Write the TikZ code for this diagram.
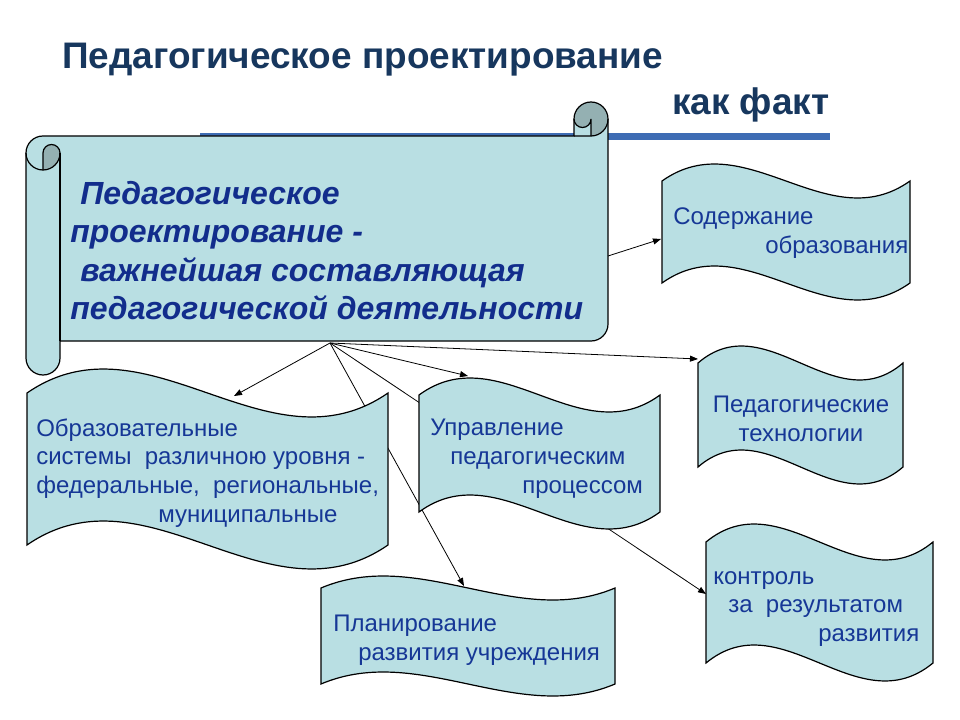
\documentclass[tikz,border=0pt]{standalone}
\usepackage{fontspec}
\setmainfont{Liberation Sans}
\usetikzlibrary{arrows.meta}
\definecolor{fillc}{RGB}{185,223,227}
\definecolor{rollc}{RGB}{148,176,178}
\definecolor{titlec}{RGB}{23,55,94}
\definecolor{barc}{RGB}{62,108,180}
\definecolor{scrolltxtc}{RGB}{18,45,140}
\definecolor{wavetxtc}{RGB}{22,55,150}
\newcommand\wavebox[5]{%
  \filldraw[waveshape] (#1,#3) .. controls ({#1+(#2-#1)/3},{#3-3.46*#5}) and ({#1+2*(#2-#1)/3},{#3+3.46*#5}) .. (#2,#3)
    -- (#2,#4) .. controls ({#1+2*(#2-#1)/3},{#4+3.46*#5}) and ({#1+(#2-#1)/3},{#4-3.46*#5}) .. (#1,#4) -- cycle;}
\begin{document}
\begin{tikzpicture}[x=0.75pt,y=-0.75pt,
  waveshape/.style={draw=black, line width=0.9pt, fill=fillc},
  scrollshape/.style={draw=black, line width=0.9pt},
  conn/.style={draw=black, line width=0.6pt},
  arr/.style={conn, -{Triangle[length=6pt,width=4.5pt]}},
  titletxt/.style={font=\fontsize{27.7}{33.2}\selectfont\bfseries, text=titlec, inner sep=0pt},
  scrolltxt/.style={font=\fontsize{24}{28.8}\selectfont\bfseries\itshape, text=scrolltxtc, inner sep=0pt, align=left},
  wavetxt/.style={font=\fontsize{18}{21.6}\selectfont, text=wavetxtc, inner sep=0pt, align=left}]
\useasboundingbox (0,0) rectangle (960,720);
\fill[white] (0,0) rectangle (960,720);

% title
\node[titletxt, anchor=west] (title) at (62,60) {Педагогическое проектирование};
\node[titletxt, anchor=west] (fact) at (672,105) {как факт};

% blue bar
\fill[barc] (200,133) rectangle (830,140);

% scroll
\fill[fillc] (26,153) arc[start angle=180, end angle=270, radius=17] -- (574,136) -- (574,119)
  arc[start angle=180, end angle=360, radius=17] -- (608,324) arc[start angle=0, end angle=90, radius=17]
  -- (60,341) -- (60,358) arc[start angle=0, end angle=180, radius=17] -- cycle;
\fill[rollc] (43,170) arc[start angle=90, end angle=0, radius=17] arc[start angle=0, end angle=-180, radius=8.5] -- cycle;
\fill[rollc] (591,136) arc[start angle=90, end angle=-180, radius=17] arc[start angle=180, end angle=0, radius=8.5] -- cycle;
\draw[scrollshape] (26,153) arc[start angle=180, end angle=270, radius=17] -- (574,136) -- (574,119)
  arc[start angle=180, end angle=360, radius=17] -- (608,324) arc[start angle=0, end angle=90, radius=17]
  -- (60,341) -- (60,358) arc[start angle=0, end angle=180, radius=17] -- cycle;
\draw[scrollshape] (574,136) -- (591,136) arc[start angle=90, end angle=0, radius=17];
\draw[scrollshape] (591,136) -- (591,119) arc[start angle=0, end angle=180, radius=8.5];
\draw[scrollshape] (43,170) -- (43,153) arc[start angle=180, end angle=360, radius=8.5] arc[start angle=0, end angle=180, radius=17];
\draw[scrollshape] (60,153) -- (60,341);

\node[scrolltxt, anchor=west] (stext) at (70,250.5)
  {\hspace*{7.5pt}Педагогическое\\проектирование -\\\hspace*{7.5pt}важнейшая составляющая\\педагогической деятельности};

% connector points
\coordinate (hub) at (330,343);
\coordinate (sr) at (608,256);
\coordinate (tSod) at (661,239);
\coordinate (tObr) at (234,396);
\coordinate (tUpr) at (468,376);
\coordinate (tTech) at (698,359);
\coordinate (tPlan) at (464,586);
\coordinate (tKon) at (706,594);

\draw[arr] (sr) -- (tSod);
\draw[arr] (hub) -- (tObr);
\draw[arr] (hub) -- (tUpr);
\draw[arr] (hub) -- (tTech);
\draw[arr] (hub) -- (tPlan);
\draw[arr] (hub) -- (tKon);

% wave shapes
\wavebox{662}{910}{181}{283}{17}
\wavebox{698}{903}{363}{467}{17}
\wavebox{706}{933}{542}{663}{18}
\wavebox{419}{660}{395}{512}{17}
\wavebox{321}{615}{588}{684}{12}
\wavebox{27}{388}{393}{545}{24}

% texts
\node[wavetxt, anchor=west] (sod) at (673,233) {Содержание\\\hspace*{69pt}образования};
\node[wavetxt, anchor=center, align=center] (tech) at (801,419) {Педагогические\\технологии};
\node[wavetxt, anchor=west] (upr) at (430,459) {Управление\\\hspace*{15pt}педагогическим\\\hspace*{69pt}процессом};
\node[wavetxt, anchor=west] (obr) at (36,473) {Образовательные\\системы\ \ различною уровня -\\федеральные,\ \ региональные,\\\hspace*{91.5pt}муниципальные};
\node[wavetxt, anchor=west] (plan) at (333,640) {Планирование\\\hspace*{18.75pt}развития учреждения};
\node[wavetxt, anchor=west] (kon) at (713,609) {контроль\\\hspace*{11.25pt}за\ \ результатом\\\hspace*{78.75pt}развития};
\end{tikzpicture}
\end{document}
